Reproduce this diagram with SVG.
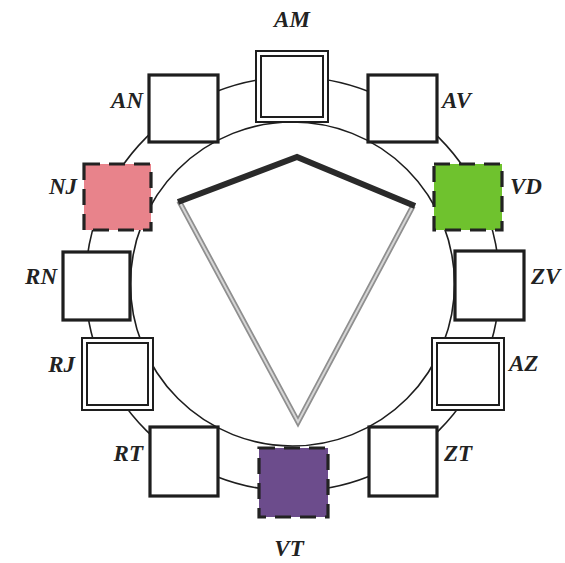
<svg xmlns="http://www.w3.org/2000/svg" width="565" height="563" viewBox="0 0 565 563">
<style>
.ring{fill:none;stroke:#1e1e1e;stroke-width:1.6}
.box{fill:#fff;stroke:#1e1e1e;stroke-width:3.2}
.dbl{fill:#fff;stroke:#1e1e1e;stroke-width:2}
.col{stroke:#222;stroke-width:3.2;stroke-dasharray:16 9}
.lbl{font-family:'Liberation Serif',serif;font-weight:700;font-style:italic;font-size:23px;fill:#222}
</style>
<rect width="565" height="563" fill="#fff"/>
<g id="ring">
<circle class="ring" cx="292.5" cy="284" r="207"/>
<circle class="ring" cx="292.5" cy="284" r="162"/>
</g>
<g id="connectors">
<polyline points="179,201 298,422 413,206" fill="none" stroke="#8f8f8f" stroke-width="5.5" stroke-linejoin="miter"/>
<polyline points="179,201 298,422 413,206" fill="none" stroke="#d6d6d6" stroke-width="2" stroke-linejoin="miter"/>
<polyline points="178,202 297,157 415,206" fill="none" stroke="#2a2a2a" stroke-width="6" stroke-linejoin="miter"/>
</g>
<g id="AM"><rect class="dbl" x="256" y="51" width="72" height="71"/><rect class="dbl" x="261" y="56" width="62" height="61"/><text class="lbl" x="292" y="27" text-anchor="middle">AM</text></g>
<g id="AN"><rect class="box" x="149" y="75" width="69" height="67"/><text class="lbl" x="143" y="108" text-anchor="end">AN</text></g>
<g id="AV"><rect class="box" x="368" y="75" width="69" height="67"/><text class="lbl" x="442" y="108">AV</text></g>
<g id="NJ"><rect class="col" x="84" y="164" width="67" height="66" fill="#e8838b"/><text class="lbl" x="77" y="194" text-anchor="end">NJ</text></g>
<g id="VD"><rect class="col" x="434" y="164" width="68" height="66" fill="#6fc22e"/><text class="lbl" x="510" y="194">VD</text></g>
<g id="RN"><rect class="box" x="63" y="252" width="67" height="68"/><text class="lbl" x="57" y="284" text-anchor="end">RN</text></g>
<g id="ZV"><rect class="box" x="455" y="251" width="69" height="69"/><text class="lbl" x="531" y="284">ZV</text></g>
<g id="RJ"><rect class="dbl" x="82" y="338" width="71" height="72"/><rect class="dbl" x="87" y="343" width="61" height="62"/><text class="lbl" x="75" y="372" text-anchor="end">RJ</text></g>
<g id="AZ"><rect class="dbl" x="432" y="338" width="72" height="72"/><rect class="dbl" x="437" y="343" width="62" height="62"/><text class="lbl" x="509" y="371">AZ</text></g>
<g id="RT"><rect class="box" x="150" y="427" width="68" height="69"/><text class="lbl" x="143" y="461" text-anchor="end">RT</text></g>
<g id="ZT"><rect class="box" x="369" y="427" width="68" height="69"/><text class="lbl" x="444" y="461">ZT</text></g>
<g id="VT"><rect class="col" x="259" y="448" width="69" height="69" fill="#6c4c8c"/><text class="lbl" x="289" y="556" text-anchor="middle">VT</text></g>
</svg>
